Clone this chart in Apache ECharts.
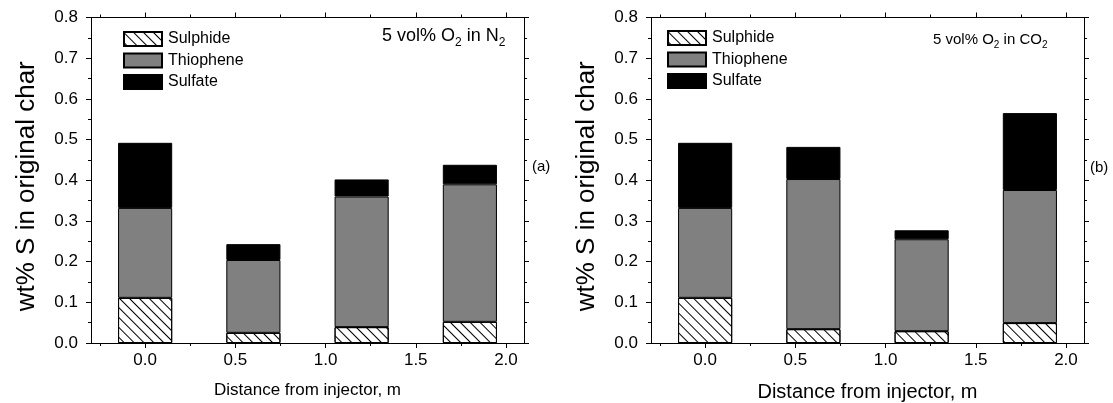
<!DOCTYPE html>
<html>
<head>
<meta charset="utf-8">
<title>Sulfur forms in char</title>
<script src="https://cdn.jsdelivr.net/npm/echarts@6/dist/echarts.min.js"></script>
<style>
  html, body { margin: 0; padding: 0; background: #fff; }
  #chart { width: 1113px; height: 403px; }
</style>
</head>
<body>
<div id="chart"></div>
<script>
// distance from injector (m) where char was sampled
const distance = [0, 0.6, 1.2, 1.8];

// panel (a): 5 vol% O2 in N2
const sulphideN2 = [0.111, 0.025, 0.039, 0.052];
const thiopheneN2 = [0.221, 0.179, 0.321, 0.338];
const sulfateN2 = [0.160, 0.039, 0.042, 0.048];

// panel (b): 5 vol% O2 in CO2
const sulphideCO2 = [0.111, 0.034, 0.029, 0.049];
const thiopheneCO2 = [0.221, 0.369, 0.226, 0.327];
const sulfateCO2 = [0.160, 0.079, 0.022, 0.189];

const xTicks = [0, 0.5, 1.0, 1.5, 2.0];
const xMinorTicks = [-0.25, 0.25, 0.75, 1.25, 1.75];
const seriesNames = ['Sulphide', 'Thiophene', 'Sulfate'];

const FONT = 'Liberation Sans, Arial, sans-serif';
const X_MIN = -0.3, X_MAX = 2.1;
const grids = [
  { left: 91, top: 17.5, width: 433, height: 325.5, outerBoundsMode: 'none' },
  { left: 651, top: 17.5, width: 433, height: 325.5, outerBoundsMode: 'none' }
];
const barWidth = 0.3 * grids[0].width / (X_MAX - X_MIN);

// value first, distance second, so the stack runs on the value column
function rows(ys) {
  return distance.map((x, i) => [ys[i], x]);
}

function xAxes(gi, titleSize) {
  const base = {
    gridIndex: gi, type: 'value', min: X_MIN, max: X_MAX,
    splitLine: { show: false },
    axisLine: { show: true, onZero: false, lineStyle: { color: '#000', width: 1 } }
  };
  return [
    Object.assign({}, base, {
      position: 'bottom',
      name: 'Distance from injector, m',
      nameLocation: 'middle',
      nameGap: 39,
      nameTextStyle: { fontFamily: FONT, fontSize: titleSize, color: '#000' },
      axisTick: { customValues: xTicks, length: 5, lineStyle: { color: '#000' } },
      axisLabel: {
        customValues: xTicks, margin: 9,
        fontFamily: FONT, fontSize: 17, color: '#000',
        formatter: v => v.toFixed(1)
      }
    }),
    Object.assign({}, base, {
      position: 'bottom',
      axisLine: { show: false, onZero: false },
      axisTick: { customValues: xMinorTicks, length: 3, lineStyle: { color: '#000' } },
      axisLabel: { show: false }
    }),
    Object.assign({}, base, {
      position: 'top',
      axisTick: { customValues: xTicks, length: 5, lineStyle: { color: '#000' } },
      axisLabel: { show: false }
    }),
    Object.assign({}, base, {
      position: 'top',
      axisLine: { show: false, onZero: false },
      axisTick: { customValues: xMinorTicks, length: 3, lineStyle: { color: '#000' } },
      axisLabel: { show: false }
    })
  ];
}

function yAxes(gi) {
  const base = {
    gridIndex: gi, type: 'value', min: 0, max: 0.8, interval: 0.1,
    splitLine: { show: false },
    axisLine: { show: true, onZero: false, lineStyle: { color: '#000', width: 1 } },
    axisTick: { show: true, length: 5, lineStyle: { color: '#000' } },
    minorTick: { show: true, splitNumber: 2, length: 3, lineStyle: { color: '#000' } }
  };
  return [
    Object.assign({}, base, {
      position: 'left',
      name: 'wt% S in original char',
      nameLocation: 'middle',
      nameGap: 51,
      nameTextStyle: { fontFamily: FONT, fontSize: 26, color: '#000', padding: [0, 12, 0, 0] },
      axisLabel: {
        margin: 13, fontFamily: FONT, fontSize: 17, color: '#000',
        formatter: v => v.toFixed(1)
      }
    }),
    Object.assign({}, base, {
      position: 'right',
      axisLabel: { show: false }
    })
  ];
}

const hatch = {
  symbol: 'rect',
  symbolSize: 1,
  color: '#000',
  dashArrayX: [1, 0],
  dashArrayY: [1, 5.5],
  rotation: Math.PI / 4
};
const styles = [
  { color: '#fff', borderColor: '#000', borderWidth: 1, decal: hatch },
  { color: '#808080', borderColor: '#000', borderWidth: 1 },
  { color: '#000', borderColor: '#000', borderWidth: 1 }
];

function barSeries(gi, stackName, values) {
  return values.map((vals, k) => ({
    name: seriesNames[k],
    type: 'bar',
    xAxisIndex: gi * 4,
    yAxisIndex: gi * 2,
    stack: stackName,
    barWidth: barWidth,
    encode: { x: 1, y: 0 },
    itemStyle: styles[k],
    emphasis: { disabled: true },
    data: rows(vals)
  }));
}

function legend(left, top) {
  return {
    orient: 'vertical', left: left, top: top, padding: 0,
    icon: 'rect', itemWidth: 38, itemHeight: 14, itemGap: 5.5,
    selectedMode: false,
    textStyle: { fontFamily: FONT, fontSize: 16, color: '#000', padding: [0, 0, 0, 1] },
    data: seriesNames
  };
}

function note(x, y, text, size, subSize, subPad) {
  return {
    type: 'text', left: x, top: y,
    style: {
      text: text, fontFamily: FONT, fontSize: size, fill: '#000',
      rich: { s: { fontFamily: FONT, fontSize: subSize, padding: [subPad, 0, 0, 0] } }
    }
  };
}

const myChart = echarts.init(document.getElementById('chart'));
myChart.setOption({
  animation: false,
  grid: grids,
  legend: [legend(123, 31), legend(667, 30)],
  xAxis: xAxes(0, 17).concat(xAxes(1, 20)),
  yAxis: yAxes(0).concat(yAxes(1)),
  series: barSeries(0, 'n2', [sulphideN2, thiopheneN2, sulfateN2])
    .concat(barSeries(1, 'co2', [sulphideCO2, thiopheneCO2, sulfateCO2])),
  graphic: [
    note(382, 27, '5 vol% O{s|2} in N{s|2}', 18, 12, 14),
    note(933, 32, '5 vol% O{s|2} in CO{s|2}', 15, 10, 12),
    { type: 'text', left: 532, top: 159, style: { text: '(a)', fontFamily: FONT, fontSize: 15, fill: '#000' } },
    { type: 'text', left: 1090, top: 160, style: { text: '(b)', fontFamily: FONT, fontSize: 15, fill: '#000' } }
  ]
});
</script>
</body>
</html>
